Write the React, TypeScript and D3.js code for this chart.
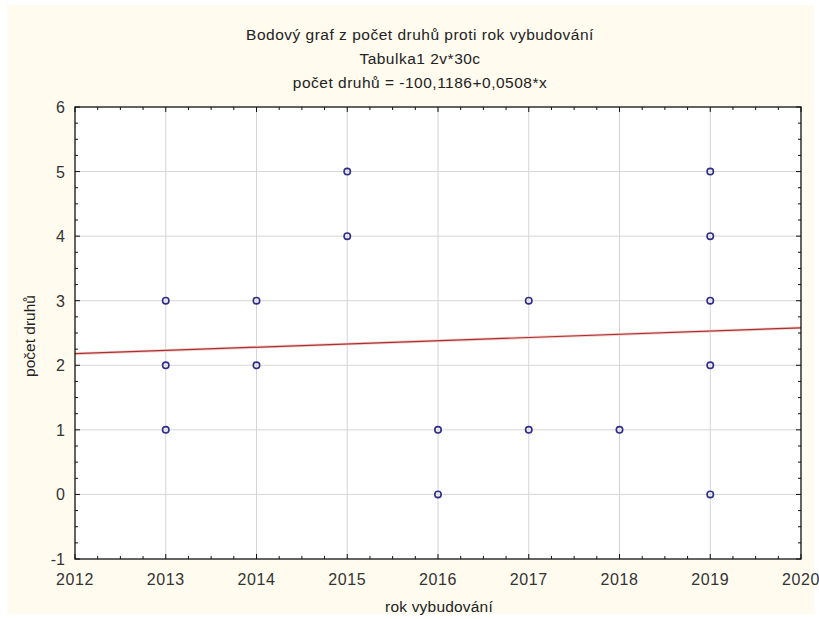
import React from "react";
import * as d3 from "d3";

const years = [2013, 2013, 2013, 2014, 2014, 2015, 2015, 2016, 2016, 2017, 2017, 2018, 2019, 2019, 2019, 2019, 2019];
const counts = [3, 2, 1, 3, 2, 5, 4, 1, 0, 3, 1, 1, 5, 4, 3, 2, 0];
const xTicks = [2012, 2013, 2014, 2015, 2016, 2017, 2018, 2019, 2020];
const yTicks = [-1, 0, 1, 2, 3, 4, 5, 6];
const trendX = [2012, 2020];
const trendY = [2.18, 2.58];
const titleLines = [
  "Bodový graf z počet druhů proti rok vybudování",
  "Tabulka1 2v*30c",
  "počet druhů = -100,1186+0,0508*x",
];

const W = 819;
const H = 619;
const L = 75, R = 801, T = 107, B = 559;

export default function App() {
  const x = d3.scaleLinear().domain([2012, 2020]).range([L, R]);
  const y = d3.scaleLinear().domain([-1, 6]).range([B, T]);
  const xMinor = d3.range(2012, 2020.001, 0.25).filter((v) => Math.abs(v - Math.round(v)) > 0.01);
  const yMinor = d3.range(-1, 6.001, 0.25).filter((v) => Math.abs(v - Math.round(v)) > 0.01);
  const line = d3.line<number>().x((_, i) => x(trendX[i])).y((d) => y(d));
  const font = "'Liberation Sans', Arial, sans-serif";
  return (
    <div style={{ position: "absolute", left: 0, top: 0 }}>
      <svg width={W} height={H} style={{ display: "block" }} fontFamily={font}>
        <rect x={0} y={0} width={W} height={H} fill="#ffffff" />
        <rect x={7} y={5} width={W - 12} height={H - 10} fill="#fffbef" />
        <rect x={L} y={T} width={R - L} height={B - T} fill="#ffffff" />
        {/* grid */}
        {yTicks.slice(1, -1).map((t) => (
          <line key={"gy" + t} x1={L} x2={R} y1={y(t)} y2={y(t)} stroke="#d6d6d6" strokeWidth={1} />
        ))}
        {xTicks.slice(1, -1).map((t) => (
          <line key={"gx" + t} x1={x(t)} x2={x(t)} y1={T} y2={B} stroke="#d4d4dc" strokeWidth={1} />
        ))}
        {/* trend line */}
        <path d={line(trendY) || ""} fill="none" stroke="#f6d0d0" strokeWidth={3} />
        <path d={line(trendY) || ""} fill="none" stroke="#a83232" strokeWidth={1.2} />
        {/* points */}
        {years.map((yr, i) => (
          <circle key={"p" + i} cx={x(yr)} cy={y(counts[i])} r={3.2} fill="none" stroke="#2e2e8a" strokeWidth={1.6} />
        ))}
        {/* frame */}
        <rect x={L} y={T} width={R - L} height={B - T} fill="none" stroke="#111" strokeWidth={1.3} />
        {/* ticks */}
        {xTicks.map((t) => (
          <g key={"xt" + t}>
            <line x1={x(t)} x2={x(t)} y1={B} y2={B - 5} stroke="#111" />
            <line x1={x(t)} x2={x(t)} y1={T} y2={T + 5} stroke="#111" />
          </g>
        ))}
        {xMinor.map((t) => (
          <g key={"xm" + t}>
            <line x1={x(t)} x2={x(t)} y1={B} y2={B - 3} stroke="#111" />
            <line x1={x(t)} x2={x(t)} y1={T} y2={T + 3} stroke="#111" />
          </g>
        ))}
        {yTicks.map((t) => (
          <g key={"yt" + t}>
            <line x1={L} x2={L + 5} y1={y(t)} y2={y(t)} stroke="#111" />
            <line x1={R} x2={R - 5} y1={y(t)} y2={y(t)} stroke="#111" />
          </g>
        ))}
        {yMinor.map((t) => (
          <g key={"ym" + t}>
            <line x1={L} x2={L + 3} y1={y(t)} y2={y(t)} stroke="#111" />
            <line x1={R} x2={R - 3} y1={y(t)} y2={y(t)} stroke="#111" />
          </g>
        ))}
        {/* tick labels */}
        {xTicks.map((t) => (
          <text key={"xl" + t} x={x(t)} y={B + 26} textAnchor="middle" fontSize={16} letterSpacing={0.6} fill="#333">
            {t}
          </text>
        ))}
        {yTicks.map((t) => (
          <text key={"yl" + t} x={L - 10} y={y(t) + 6} textAnchor="end" fontSize={16} fill="#333">
            {t}
          </text>
        ))}
        {/* titles */}
        {titleLines.map((s, i) => (
          <text key={"t" + i} x={420} y={40 + i * 24} textAnchor="middle" fontSize={15.5} letterSpacing={0.5} fill="#222">
            {s}
          </text>
        ))}
        <text x={439} y={612} textAnchor="middle" fontSize={15.5} letterSpacing={0.2} fill="#222">
          rok vybudování
        </text>
        <text transform={`translate(35,${336}) rotate(-90)`} textAnchor="middle" fontSize={15.5} fill="#222">
          počet druhů
        </text>
      </svg>
    </div>
  );
}
